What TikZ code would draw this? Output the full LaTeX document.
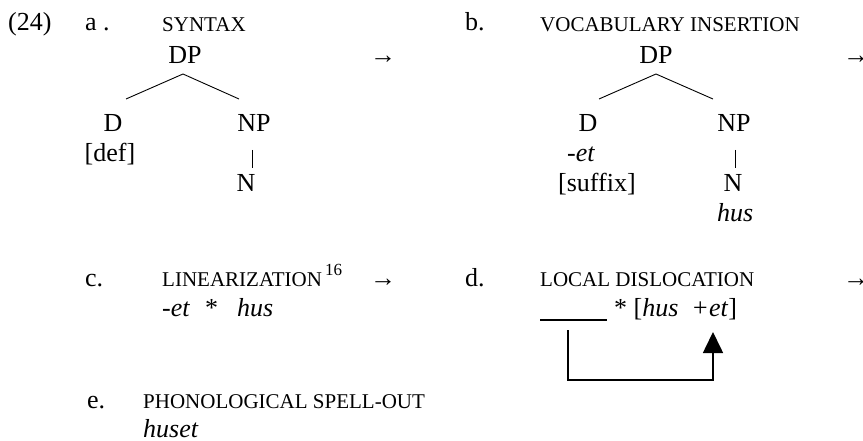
\documentclass[tikz,border=0pt]{standalone}
\usepackage{fontspec}
\setmainfont{Liberation Serif}
\usetikzlibrary{arrows.meta}
\begin{document}
\begin{tikzpicture}[x=1pt,y=-1pt,
  txt/.style={inner sep=0pt, font=\fontsize{26}{30}\selectfont},
  sc/.style={inner sep=0pt, font=\fontsize{21}{25}\selectfont},
  sup/.style={inner sep=0pt, font=\fontsize{17}{20}\selectfont},
  treeline/.style={line width=0.9pt},
  boxline/.style={line width=1.6pt},
  ulline/.style={line width=2pt},
]
\useasboundingbox (0,0) rectangle (863,441);

% ---- (24) a. ----
\node[txt,anchor=base west] (ex) at (8,31) {(24)};
\node[txt,anchor=base west] (la) at (85,31) {a .};
\node[sc,anchor=base west] (ta) at (162,32) {SYNTAX};
\node[txt,anchor=base] (DPa) at (185,64) {DP};
\node[txt,anchor=base west] (arra) at (370,64) {→};
\coordinate (apa) at (183,74);
\coordinate (lfa) at (126,99);
\coordinate (rta) at (239,99);
\draw[treeline] (lfa) -- (apa) -- (rta);
\node[txt,anchor=base] (Da) at (113,132) {D};
\node[txt,anchor=base] (NPa) at (254,132) {NP};
\node[txt,anchor=base] (defa) at (110,162) {[def]};
\coordinate (bta) at (252,150);
\coordinate (bba) at (252,168);
\draw[treeline] (bta) -- (bba);
\node[txt,anchor=base] (Na) at (246,192) {N};

% ---- b. ----
\node[txt,anchor=base west] (lb) at (465,31) {b.};
\node[sc,anchor=base west] (tb) at (540,32) {VOCABULARY INSERTION};
\node[txt,anchor=base] (DPb) at (656,64) {DP};
\node[txt,anchor=base west] (arrb) at (843,64) {→};
\coordinate (apb) at (656,74);
\coordinate (lfb) at (599,99);
\coordinate (rtb) at (713,99);
\draw[treeline] (lfb) -- (apb) -- (rtb);
\node[txt,anchor=base] (Db) at (588,132) {D};
\node[txt,anchor=base] (NPb) at (734,132) {NP};
\node[txt,anchor=base west] (etb) at (567,162) {-\textit{et}};
\coordinate (btb) at (735,150);
\coordinate (bbb) at (735,168);
\draw[treeline] (btb) -- (bbb);
\node[txt,anchor=base west] (sufb) at (558,192) {[suffix]};
\node[txt,anchor=base] (Nb) at (733,192) {N};
\node[txt,anchor=base west] (husb) at (717,222) {\textit{hus}};

% ---- c. ----
\node[txt,anchor=base west] (lc) at (85,286) {c.};
\node[sc,anchor=base west] (tc) at (162,286) {LINEARIZATION};
\node[sup,anchor=base west] (fn) at (325,275) {16};
\node[txt,anchor=base west] (arrc) at (370,286) {→};
\node[txt,anchor=base west] (etc) at (162,316) {-\textit{et}};
\node[txt,anchor=base west] (starc) at (205,316) {*};
\node[txt,anchor=base west] (husc) at (237,316) {\textit{hus}};

% ---- d. ----
\node[txt,anchor=base west] (ld) at (465,286) {d.};
\node[sc,anchor=base west] (td) at (540,286) {LOCAL DISLOCATION};
\node[txt,anchor=base west] (arrd) at (843,286) {→};
\coordinate (ul1) at (540,320);
\coordinate (ul2) at (607,320);
\draw[ulline] (ul1) -- (ul2);
\node[txt,anchor=base west] (dl) at (614,316) {* [\textit{hus}\ \ \textit{+et}]};
\coordinate (src) at (568,330);
\coordinate (tgt) at (713,332);
\draw[boxline,-{Triangle[length=21pt,width=20pt]}] (src) -- (568,380) -- (713,380) -- (tgt);

% ---- e. ----
\node[txt,anchor=base west] (le) at (87,408) {e.};
\node[sc,anchor=base west] (te) at (143,408) {PHONOLOGICAL SPELL-OUT};
\node[txt,anchor=base west] (huset) at (143,437) {\textit{huset}};
\end{tikzpicture}
\end{document}
